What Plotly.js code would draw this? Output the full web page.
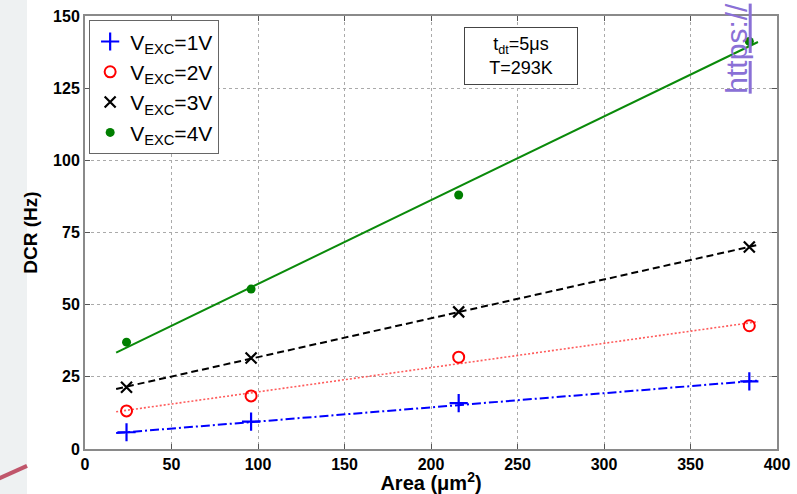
<!DOCTYPE html>
<html>
<head>
<meta charset="utf-8">
<script src="https://cdn.plot.ly/plotly-3.0.1.min.js"></script>
<style>
  html, body { margin: 0; padding: 0; background: #ffffff; }
  #chart { width: 797px; height: 494px; }
</style>
</head>
<body>
<div id="chart"></div>
<script>
// ---- data ----
const areaX = [24, 96, 216, 384];
const dcr1V = [5.8, 9.5, 15.9, 23.4];
const dcr2V = [13.2, 18.4, 31.8, 42.7];
const dcr3V = [21.4, 31.5, 47.5, 70.0];
const dcr4V = [37.0, 55.4, 88.0, 141.2];

// fitted lines (endpoints)
const fitX = [18, 389];
const fit1V = [5.5, 23.7];
const fit2V = [12.9, 44.1];
const fit3V = [20.8, 70.7];
const fit4V = [33.4, 141.0];

const seriesNames = ['V<sub>EXC</sub>=1V', 'V<sub>EXC</sub>=2V', 'V<sub>EXC</sub>=3V', 'V<sub>EXC</sub>=4V'];
const xTicks = [0, 50, 100, 150, 200, 250, 300, 350, 400];
const yTicks = [0, 25, 50, 75, 100, 125, 150];

const FONT = 'Liberation Sans, Arial, Helvetica, sans-serif';

const traces = [
  // fit lines (no legend)
  {x: fitX, y: fit1V, mode: 'lines', showlegend: false, hoverinfo: 'skip',
   line: {color: '#0000ff', width: 2, dash: '9px,3px,2px,3px'}},
  {x: fitX, y: fit2V, mode: 'lines', showlegend: false, hoverinfo: 'skip',
   line: {color: '#ff5a5a', width: 1.6, dash: '2px,2px'}},
  {x: fitX, y: fit3V, mode: 'lines', showlegend: false, hoverinfo: 'skip',
   line: {color: '#000000', width: 2, dash: '7px,4px'}},
  {x: fitX, y: fit4V, mode: 'lines', showlegend: false, hoverinfo: 'skip',
   line: {color: '#0a8a0a', width: 2}},
  // measured points
  {x: areaX, y: dcr1V, mode: 'markers', name: seriesNames[0],
   marker: {symbol: 'cross-thin-open', size: 13, line: {color: '#0000ff', width: 2.2}, color: '#0000ff'}},
  {x: areaX, y: dcr2V, mode: 'markers', name: seriesNames[1],
   marker: {symbol: 'circle-open', size: 11, line: {color: '#ff0000', width: 2}, color: '#ff0000'}},
  {x: areaX, y: dcr3V, mode: 'markers', name: seriesNames[2],
   marker: {symbol: 'x-thin-open', size: 11, line: {color: '#000000', width: 2.2}, color: '#000000'}},
  {x: areaX, y: dcr4V, mode: 'markers', name: seriesNames[3],
   marker: {symbol: 'circle', size: 9, color: '#007f00'}}
];

const axisCommon = {
  showline: true, mirror: 'ticks', linecolor: '#8a8a8a', linewidth: 2,
  ticks: 'inside', ticklen: 5, tickcolor: '#555', tickwidth: 1,
  showgrid: true, gridcolor: '#aaaaaa', griddash: 'dot', gridwidth: 1,
  zeroline: false, tickmode: 'array',
  tickfont: {family: FONT, size: 16, color: '#000', weight: 'bold'}
};

const layout = {
  width: 797, height: 494,
  margin: {l: 85, r: 20, t: 16, b: 45},
  paper_bgcolor: '#ffffff', plot_bgcolor: '#ffffff',
  showlegend: true,
  xaxis: Object.assign({}, axisCommon, {
    range: [0, 400], tickvals: xTicks, ticktext: xTicks.map(String),
    title: {text: 'Area (μm<sup>2</sup>)', font: {family: FONT, size: 20, color: '#000', weight: 'bold'}, standoff: 2}
  }),
  yaxis: Object.assign({}, axisCommon, {
    range: [0, 150], tickvals: yTicks, ticktext: yTicks.map(String),
    title: {text: 'DCR (Hz)', font: {family: FONT, size: 19, color: '#000', weight: 'bold'}, standoff: 10}
  }),
  legend: {
    x: 0.006, y: 0.99, xanchor: 'left', yanchor: 'top',
    bgcolor: '#ffffff', bordercolor: '#666', borderwidth: 1,
    font: {family: FONT, size: 21, color: '#000'},
    tracegroupgap: 0
  },
  annotations: [
    {xref: 'paper', yref: 'paper', x: 0.630, y: 0.9076, xanchor: 'center', yanchor: 'middle',
     text: 't<sub>dt</sub>=5μs<br>T=293K', showarrow: false,
     font: {family: FONT, size: 18, color: '#000'},
     bordercolor: '#444', borderwidth: 1, bgcolor: '#ffffff', width: 110, height: 54},
    {xref: 'paper', yref: 'paper', x: 0.941, y: 0.925, xanchor: 'center', yanchor: 'middle',
     text: '<u>https://</u>', textangle: -90, showarrow: false,
     font: {family: FONT, size: 30, color: '#8a70d6'}}
  ],
  shapes: [
    {type: 'rect', xref: 'paper', yref: 'paper', x0: -0.13, x1: -0.0838, y0: -0.2, y1: 1.1,
     fillcolor: '#eef1f2', line: {width: 0}, layer: 'below'},
    {type: 'line', xref: 'paper', yref: 'paper', x0: -0.13, y0: -0.072, x1: -0.0838, y1: -0.039,
     line: {color: '#c0566b', width: 4}}
  ]
};

Plotly.newPlot('chart', traces, layout, {displayModeBar: false, staticPlot: true});
</script>
</body>
</html>
